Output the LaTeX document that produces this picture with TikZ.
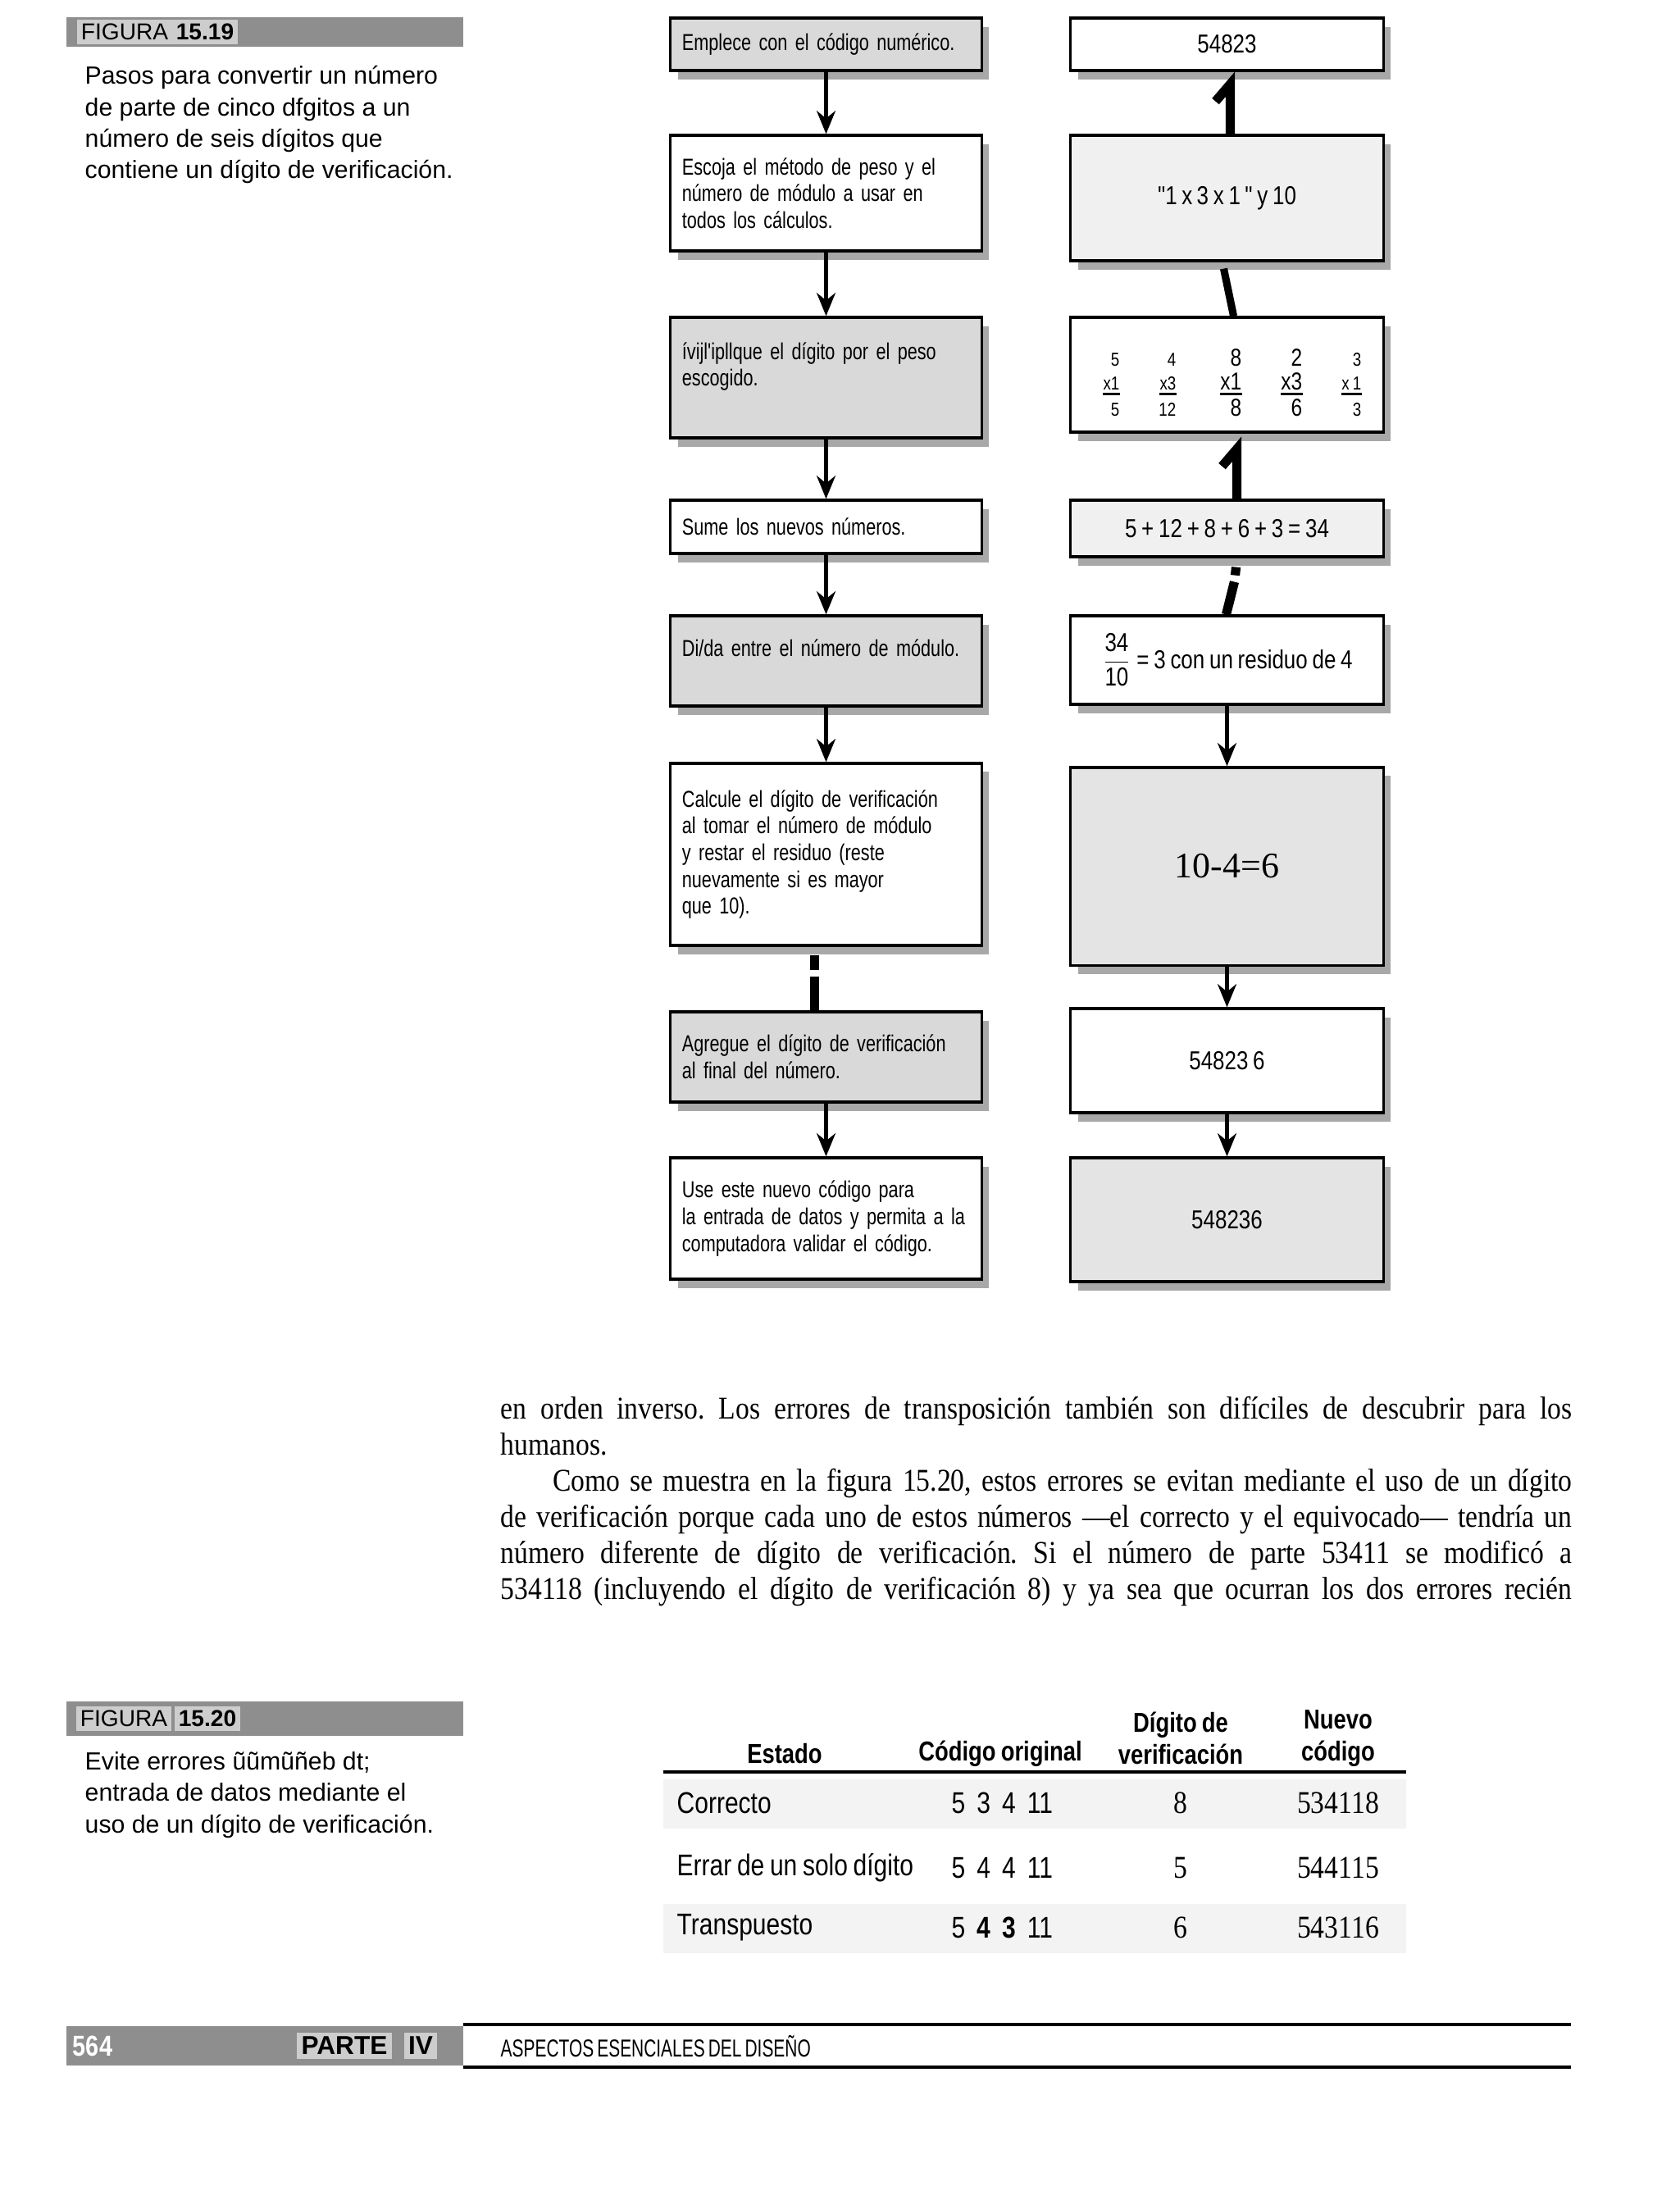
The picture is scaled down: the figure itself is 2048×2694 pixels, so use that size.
\documentclass[tikz,border=0pt]{standalone}
\usepackage{fontspec}
\setmainfont{Liberation Serif}
\setsansfont{Liberation Sans}
\newfontfamily\narrowsf{Liberation Sans}[FakeStretch=0.82, WordSpace=0.8]
\newfontfamily\stepsf{Liberation Sans}[FakeStretch=0.77, WordSpace=0.75]
\newfontfamily\narrowrm{Liberation Serif}[FakeStretch=0.87, WordSpace=0.8]
\newfontfamily\condsf{Liberation Sans}[FakeStretch=0.7, WordSpace=0.7]
\usepackage{tikz}
\usetikzlibrary{arrows.meta,positioning,calc,shadows}
\definecolor{BarGray}{HTML}{8E8E8E}
\definecolor{TagGray}{HTML}{CDCDCD}
\definecolor{ScanGray}{HTML}{D9D9D9}
\definecolor{ScanMid}{HTML}{E4E4E4}
\definecolor{ScanLight}{HTML}{F0F0F0}
\definecolor{ShadowGray}{HTML}{A8A8A8}
\definecolor{RowShade}{HTML}{F3F3F3}
\newcommand{\dgap}{\hspace{4pt}}
\tikzset{
    % Base box with scanned shadow
    basebox/.style={
        draw=black,
        fill=white,
        line width=0.9pt,
        inner xsep=0.14cm,
        inner ysep=0pt,
        drop shadow={shadow xshift=2.5pt, shadow yshift=-3pt, fill=ShadowGray, opacity=1}
    },
    % Step box (left column)
    stepbox/.style={
        basebox,
        minimum width=3.79cm,
        text width=3.51cm,
        align=left,
        font=\stepsf\fontsize{8}{9.3}\selectfont
    },
    % Result box (right column)
    resultbox/.style={
        basebox,
        minimum width=3.81cm,
        align=center,
        font=\narrowsf\fontsize{9}{10}\selectfont
    },
    shadedbox/.style={fill=ScanGray},
    midbox/.style={fill=ScanMid},
    lightbox/.style={fill=ScanLight},
    % Product digits
    prodnum/.style={inner sep=0pt, anchor=base east},
    % Arrows
    flowarrow/.style={
        -{Stealth[length=8pt,width=6.5pt]},
        line width=1.4pt,
        draw=black
    },
    % Broken connectors of the scan
    barline/.style={line width=3.2pt, draw=black},
    % Side captions
    figbar/.style={fill=BarGray},
    figtag/.style={fill=TagGray, inner xsep=1.5pt, inner ysep=1.5pt, font=\sffamily\fontsize{8}{8}\selectfont},
    captiontext/.style={anchor=north west, inner sep=0pt, align=left, font=\sffamily\fontsize{8.6}{10.9}\selectfont},
    % Body text
    bodytext/.style={anchor=north west, inner sep=0pt, text width=13.06cm, align=justify, font=\narrowrm\fontsize{11}{12.5}\selectfont},
    % Table
    tablehead/.style={align=center, inner sep=0pt, font=\narrowsf\bfseries\fontsize{9.5}{11}\selectfont},
    tablecell/.style={inner sep=0pt, font=\narrowsf\fontsize{10.4}{11}\selectfont},
    tablenum/.style={inner sep=0pt, font=\narrowrm\fontsize{11}{12}\selectfont}
}
\begin{document}
\begin{tikzpicture}[x=0.01cm, y=-0.01cm]
        \fill[white] (0,0) rectangle (2048,2694);
        \useasboundingbox (0,0) rectangle (2048,2694);

        % Figure 15.19 caption
        \fill[figbar] (81,21) rectangle (565,57);
        \node[figtag] (fig1a) at (152,39) {FIGURA};
        \node[figtag, font=\sffamily\bfseries\fontsize{8}{8}\selectfont] (fig1b) at (250,39) {15.19};
        \node[captiontext] (cap1) at (103,80) {Pasos para convertir un número\\de parte de cinco dfgitos a un\\número de seis dígitos que\\contiene un dígito de verificación.};

        % Steps
        \node[stepbox, shadedbox, minimum height=0.64cm] (l1) at (1007.5,54) {\mbox{Emplece con el código numérico.}};
        \node[stepbox, minimum height=1.41cm] (l2) at (1007.5,235.5) {Escoja el método de peso y el\\número de módulo a usar en\\todos los cálculos.};
        \node[stepbox, shadedbox, minimum height=1.47cm] (l3) at (1007.5,460.5) {\mbox{ívijl'ipllque el dígito por el peso}\\escogido.\\\mbox{}};
        \node[stepbox, minimum height=0.65cm] (l4) at (1007.5,642.5) {Sume los nuevos números.};
        \node[stepbox, shadedbox, minimum height=1.10cm] (l5) at (1007.5,806) {\mbox{Di/da entre el número de módulo.}\\\mbox{}};
        \node[stepbox, minimum height=2.22cm] (l6) at (1007.5,1042) {Calcule el dígito de verificación\\al tomar el número de módulo\\y restar el residuo (reste\\nuevamente si es mayor\\que 10).};
        \node[stepbox, shadedbox, minimum height=1.10cm] (l7) at (1007.5,1289) {\mbox{Agregue el dígito de verificación}\\al final del número.};
        \node[stepbox, minimum height=1.48cm] (l8) at (1007.5,1486) {Use este nuevo código para\\\mbox{la entrada de datos y permita a la}\\computadora validar el código.};

        % Results
        \node[resultbox, minimum height=0.64cm] (r1) at (1496.5,54) {54823};
        \node[resultbox, lightbox, minimum height=1.53cm] (r2) at (1496.5,241.5) {"1\ x\,3\ x\ 1\,"\ y\ 10};
        \node[resultbox, minimum height=1.40cm] (r3) at (1496.5,457) {};
        \node[resultbox, lightbox, minimum height=0.69cm] (r4) at (1496.5,644.5) {5 + 12 + 8 + 6 + 3 = 34};
        \node[resultbox, minimum height=1.08cm] (r5) at (1496.5,805) {$\displaystyle\frac{\mbox{34}}{\mbox{10}}$ = 3 con un residuo de 4};
        \node[resultbox, midbox, minimum height=2.41cm, font=\rmfamily\fontsize{12.5}{14}\selectfont] (r6) at (1496.5,1056.5) {10-4=6};
        \node[resultbox, minimum height=1.27cm] (r7) at (1496.5,1293.5) {54823 6};
        \node[resultbox, midbox, minimum height=1.51cm] (r8) at (1496.5,1487.5) {548236};

        % Products inside r3
        \foreach \cx/\ctop/\cmul/\cbot/\csz [count=\ci] in {1366/5/x1/5/6.5, 1435/4/x3/12/6.5, 1515/8/x1/8/8.5, 1589/2/x3/6/8.5, 1661/3/x 1/3/6.5} {
            \node[prodnum, font=\narrowsf\fontsize{\csz}{\csz}\selectfont] (t\ci) at (\cx,446) {\ctop};
            \node[prodnum, font=\narrowsf\fontsize{\csz}{\csz}\selectfont] (m\ci) at (\cx,475) {\cmul};
            \node[prodnum, font=\narrowsf\fontsize{\csz}{\csz}\selectfont] (b\ci) at (\cx,507) {\cbot};
            \draw[line width=0.9pt] ([yshift=-1.6pt]m\ci.base west) -- ([yshift=-1.6pt]m\ci.base east);
        }

        % Arrows, left column
        \draw[flowarrow] (l1) -- (l2);
        \draw[flowarrow] (l2) -- (l3);
        \draw[flowarrow] (l3) -- (l4);
        \draw[flowarrow] (l4) -- (l5);
        \draw[flowarrow] (l5) -- (l6);
        \draw[barline] ($(l6.south)+(-14,10)$) -- ($(l6.south)+(-14,28)$);
        \draw[barline] ($(l6.south)+(-14,36)$) -- ($(l7.north)+(-14,0)$);
        \draw[flowarrow] (l7) -- (l8);

        % Arrows, right column
        \draw[barline] ($(r1.south)+(-14,36)$) -- ($(r1.south)+(4,15)$) -- ($(r2.north)+(4,0)$);
        \draw[barline, line width=2.6pt] ($(r2.south)+(-4,8)$) -- ($(r3.north)+(8,0)$);
        \draw[barline] ($(r3.south)+(-6,40)$) -- ($(r3.south)+(12,19)$) -- ($(r4.north)+(12,0)$);
        \draw[barline] ($(r4.south)+(11,11)$) -- ($(r4.south)+(10,21)$);
        \draw[barline] ($(r4.south)+(9,29)$) -- ($(r5.north)+(-1,0)$);
        \draw[flowarrow] (r5) -- (r6);
        \draw[flowarrow] (r6) -- (r7);
        \draw[flowarrow] (r7) -- (r8);

        % Body text
        \node[bodytext] (body) at (610,1703) {\frenchspacing\setlength{\parindent}{0pt}en orden inverso. Los errores de transposición también son difíciles de descubrir para los\linebreak humanos.\par
        \hspace*{18pt}Como se muestra en la figura 15.20, estos errores se evitan mediante el uso de un dígito\linebreak de verificación porque cada uno de estos números —el correcto y el equivocado— tendría un\linebreak número diferente de dígito de verificación. Si el número de parte 53411 se modificó a\linebreak 534118 (incluyendo el dígito de verificación 8) y ya sea que ocurran los dos errores recién\parfillskip=0pt\par};

        % Figure 15.20 caption
        \fill[figbar] (81,2075) rectangle (565,2117);
        \node[figtag] (fig2a) at (151,2096) {FIGURA};
        \node[figtag, font=\sffamily\bfseries\fontsize{8}{8}\selectfont] (fig2b) at (253,2096) {15.20};
        \node[captiontext] (cap2) at (103,2136) {Evite errores ũũmũñeb dt;\\entrada de datos mediante el\\uso de un dígito de verificación.};

        % Table
        \fill[RowShade] (809,2170) rectangle (1715,2230);
        \fill[RowShade] (809,2322) rectangle (1715,2382);
        \draw[line width=1.3pt] (809,2161) -- (1715,2161);
        \node[tablehead] (hstate) at (957,2139) {Estado};
        \node[tablehead] (hcode) at (1220,2139) {Código original};
        \node[tablehead] (hcheck) at (1440,2120) {Dígito de\\verificación};
        \node[tablehead] (hnew) at (1632,2120) {Nuevo\\código};

        \node[tablecell, anchor=west] (s1) at (825,2199) {Correcto};
        \node[tablecell, anchor=west] (c1) at (1160,2199) {5\dgap 3\dgap 4\dgap 11};
        \node[tablenum] (d1) at (1440,2199) {8};
        \node[tablenum] (n1) at (1632,2199) {534118};

        \node[tablecell, anchor=west] (s2) at (825,2278) {Errar de un solo dígito};
        \node[tablecell, anchor=west] (c2) at (1160,2278) {5\dgap 4\dgap 4\dgap 11};
        \node[tablenum] (d2) at (1440,2278) {5};
        \node[tablenum] (n2) at (1632,2278) {544115};

        \node[tablecell, anchor=west] (s3) at (825,2351) {Transpuesto};
        \node[tablecell, anchor=west] (c3) at (1160,2351) {5\dgap\textbf{4}\dgap\textbf{3}\dgap 11};
        \node[tablenum] (d3) at (1440,2351) {6};
        \node[tablenum] (n3) at (1632,2351) {543116};

        % Footer
        \fill[figbar] (81,2471) rectangle (565,2519);
        \draw[line width=1.1pt] (565,2469) -- (1916,2469);
        \draw[line width=1.1pt] (565,2521) -- (1916,2521);
        \node[text=white, inner sep=0pt, font=\narrowsf\bfseries\fontsize{10}{10}\selectfont] (page) at (113,2495) {564};
        \node[figtag, font=\sffamily\bfseries\fontsize{9}{9}\selectfont] (part) at (420,2495) {PARTE};
        \node[figtag, font=\sffamily\bfseries\fontsize{9}{9}\selectfont] (partno) at (513,2495) {IV};
        \node[anchor=west, inner sep=0pt, font=\condsf\fontsize{8.5}{9}\selectfont] (runhead) at (610,2495) {ASPECTOS ESENCIALES DEL DISEÑO};
    \end{tikzpicture}
\end{document}
